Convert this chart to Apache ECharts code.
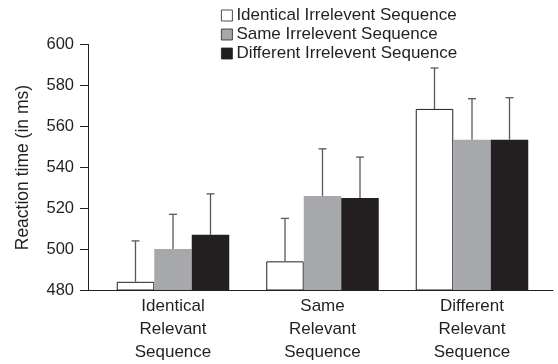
<!DOCTYPE html>
<html>
<head>
<meta charset="utf-8">
<script src="https://cdn.jsdelivr.net/npm/echarts@6/dist/echarts.min.js"></script>
<style>html,body{margin:0;padding:0;background:#fff}#c{width:558px;height:364px}</style>
</head>
<body>
<div id="c"></div>
<script>
var categories = ['Identical\nRelevant\nSequence', 'Same\nRelevant\nSequence', 'Different\nRelevant\nSequence'];
var seriesNames = ['Identical Irrelevent Sequence', 'Same Irrelevent Sequence', 'Different Irrelevent Sequence'];
var identicalIrr = [484, 494, 568.5];
var sameIrr = [500, 526, 553.5];
var differentIrr = [507, 525, 553.5];
var identicalErr = [20, 21, 20];
var sameErr = [17, 23, 20];
var differentErr = [20, 20, 20.5];
var yTicks = [480, 500, 520, 540, 560, 580, 600];

var FONT = 'Liberation Sans, Arial, Helvetica, sans-serif';
var TXT = '#231f20';
var BAR_W = 37.5;
var colors = ['#ffffff', '#a7a8ac', '#231f20'];
var values = [identicalIrr, sameIrr, differentIrr];
var errs = [identicalErr, sameErr, differentErr];

var chart = echarts.init(document.getElementById('c'), null, {renderer: 'canvas'});

var series = [];
values.forEach(function (v, i) {
  series.push({
    name: seriesNames[i], type: 'bar', xAxisIndex: 1, yAxisIndex: 1,
    data: v, barWidth: BAR_W, barGap: '0%',
    itemStyle: {color: colors[i], borderColor: TXT, borderWidth: i === 0 ? 1 : 0},
    emphasis: {disabled: true}, z: 2
  });
});
values.forEach(function (v, i) {
  var data = v.map(function (val, k) { return [k, val, val + errs[i][k]]; });
  series.push({
    type: 'custom', xAxisIndex: 1, yAxisIndex: 1, z: 3,
    data: data,
    renderItem: function (params, api) {
      var base = api.coord([api.value(0), api.value(1)]);
      var top = api.coord([api.value(0), api.value(2)]);
      var x = base[0] + (i - 1) * BAR_W;
      var st = {stroke: '#58585a', lineWidth: 1.3};
      return {type: 'group', children: [
        {type: 'line', shape: {x1: x, y1: base[1], x2: x, y2: top[1]}, style: st},
        {type: 'line', shape: {x1: x - 4, y1: top[1], x2: x + 4, y2: top[1]}, style: st}
      ]};
    }
  });
});

chart.setOption({
  animation: false,
  textStyle: {fontFamily: FONT, color: TXT},
  legend: {
    orient: 'vertical', left: 216, top: 1, itemWidth: 11, itemHeight: 11, itemGap: 0,
    icon: 'rect', data: seriesNames,
    itemStyle: {borderWidth: 0.8},
    textStyle: {fontFamily: FONT, fontSize: 17, color: TXT, lineHeight: 19, padding: [0, 0, 0, -1]}
  },
  grid: [
    {left: 88, right: 5, top: 44.5, bottom: 73.3},
    {left: 98.25, right: 11.25, top: 44.5, bottom: 73.3}
  ],
  xAxis: [
    {gridIndex: 0, type: 'category', data: categories,
      axisLine: {lineStyle: {color: TXT, width: 1}}, axisTick: {show: false}, axisLabel: {show: false}},
    {gridIndex: 1, type: 'category', data: categories,
      axisLine: {show: false}, axisTick: {show: false},
      axisLabel: {fontFamily: FONT, fontSize: 17, lineHeight: 23, color: TXT, margin: 5}}
  ],
  yAxis: [
    {gridIndex: 0, type: 'value', min: yTicks[0], max: yTicks[yTicks.length - 1], interval: 20,
      name: 'Reaction time (in ms)', nameLocation: 'middle', nameGap: 56,
      nameTextStyle: {fontFamily: FONT, fontSize: 17.5, color: TXT},
      axisLine: {show: true, lineStyle: {color: TXT, width: 1}},
      axisTick: {show: true, length: 8, lineStyle: {color: TXT}},
      axisLabel: {fontFamily: FONT, fontSize: 16.5, color: TXT, margin: 14},
      splitLine: {show: false}},
    {gridIndex: 1, type: 'value', min: yTicks[0], max: yTicks[yTicks.length - 1], interval: 20,
      show: false, splitLine: {show: false}}
  ],
  series: series
});
</script>
</body>
</html>
